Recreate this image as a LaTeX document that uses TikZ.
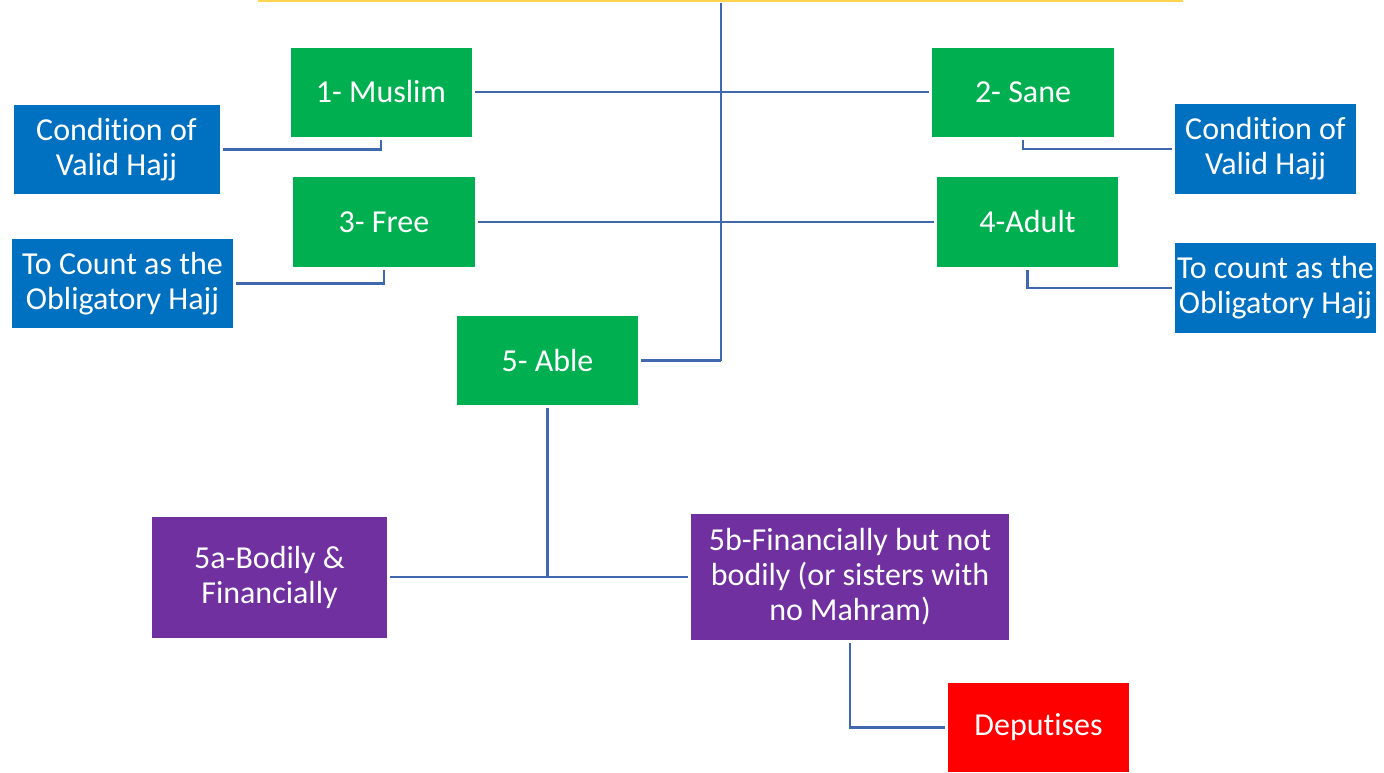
\documentclass[tikz,border=0pt]{standalone}
\usepackage{fontspec}
\setmainfont{Carlito}[Ligatures=NoCommon]
\definecolor{cgreen}{HTML}{00B050}
\definecolor{cblue}{HTML}{0070C0}
\definecolor{cpurple}{HTML}{7030A0}
\definecolor{cred}{HTML}{FF0000}
\definecolor{cline}{HTML}{4068B0}
\definecolor{cyellow}{HTML}{FFD54F}
\begin{document}
\begin{tikzpicture}[x=1pt,y=-1pt,
  box/.style={draw=none, text=white, inner sep=0pt, align=center,
    font=\fontsize{32}{35}\selectfont},
  gbox/.style={box, fill=cgreen},
  bbox/.style={box, fill=cblue},
  pbox/.style={box, fill=cpurple},
  rbox/.style={box, fill=cred},
  conn/.style={draw=cline, line width=2.7pt, shorten <=3pt, shorten >=3pt},
  trunk/.style={draw=cline, line width=2.7pt}
]
\useasboundingbox (0,0) rectangle (1384,772);
% top yellow edge of the (cut-off) title box
\draw[cyellow, line width=2.5pt] (258,0.8) -- (1183,0.8);

\node[gbox, minimum width=181pt, minimum height=89pt] (muslim) at (381,92) {1- Muslim};
\node[gbox, minimum width=182pt, minimum height=89pt] (sane) at (1023,92) {2- Sane};
\node[gbox, minimum width=182pt, minimum height=90pt] (free) at (384,222) {3- Free};
\node[gbox, minimum width=181pt, minimum height=90pt] (adult) at (1027.5,222) {4-Adult};
\node[gbox, minimum width=181pt, minimum height=89pt] (able) at (547.5,360.5) {5- Able};

\node[bbox, minimum width=206pt, minimum height=89pt] (cond1) at (116.5,149.5) {Condition of\\Valid Hajj};
\node[bbox, minimum width=221pt, minimum height=89pt] (count1) at (122.5,283.5) {To Count as the\\Obligatory Hajj};
\node[bbox, minimum width=181pt, minimum height=90pt] (cond2) at (1265.5,149) {Condition of\\Valid Hajj};
\node[bbox, minimum width=201pt, minimum height=90pt] (count2) at (1275.5,288) {To count as the\\Obligatory Hajj};

\node[pbox, minimum width=235pt, minimum height=121pt] (a5) at (269.5,577) {5a-Bodily \&\\Financially};
\node[pbox, minimum width=318pt, minimum height=126pt] (b5) at (850,577) {5b-Financially but not\\bodily (or sisters with\\no Mahram)};
\node[rbox, minimum width=181pt, minimum height=89pt] (dep) at (1038.5,727.5) {Deputises};

\coordinate (top) at (721,3);
\coordinate (bend) at (721,360.5);
\coordinate (j) at (547.5,577);

% trunk
\draw[trunk] (top) -- (bend);
\draw[conn, shorten >=0pt] (able.east) -- (bend);
% horizontal rows
\draw[conn] (muslim.east) -- (sane.west);
\draw[conn] (free.east) -- (adult.west);
% side labels
\draw[conn] (muslim.south) |- (cond1.east);
\draw[conn] (free.south) |- (count1.east);
\draw[conn] (sane.south) |- (cond2.west);
\draw[conn] (adult.south) |- (count2.west);
% able subtree
\draw[conn, shorten >=0pt] (able.south) -- (j);
\draw[conn] (a5.east) -- (b5.west);
\draw[conn] (b5.south) |- (dep.west);
\end{tikzpicture}
\end{document}
